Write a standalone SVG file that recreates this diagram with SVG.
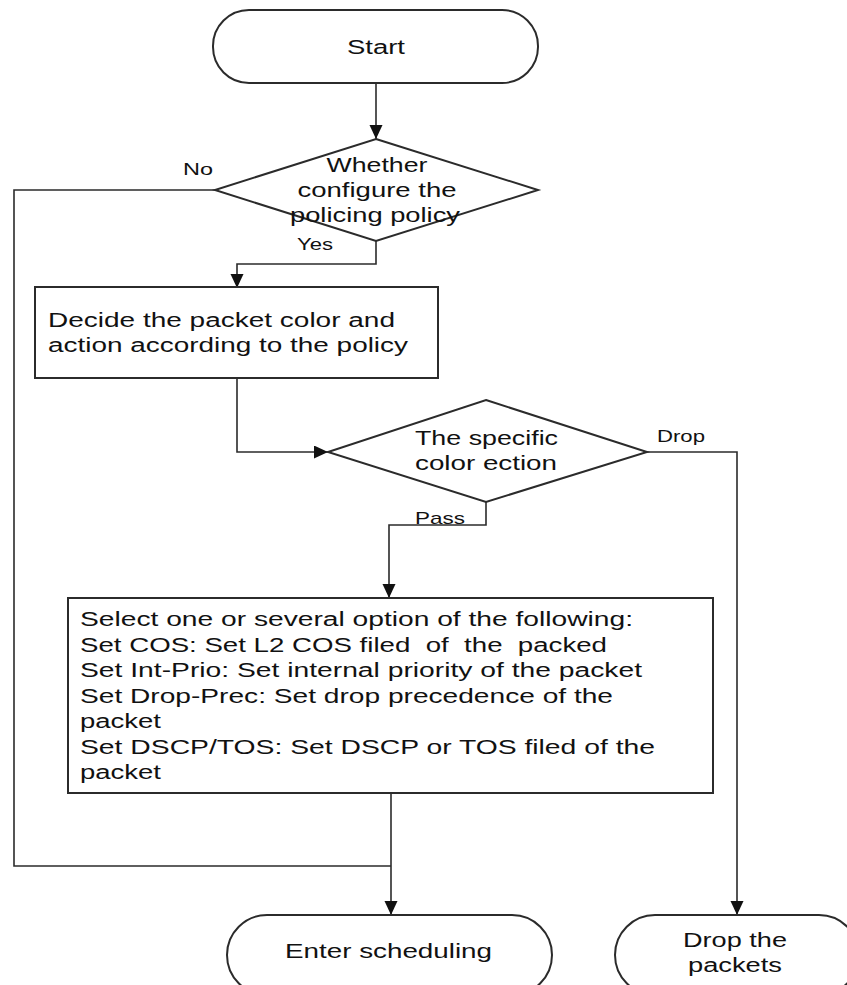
<svg xmlns="http://www.w3.org/2000/svg" width="847" height="985" viewBox="0 0 847 985">
<style>
.shape{fill:#ffffff;stroke:#2b2b2b;stroke-width:2}
.conn{fill:none;stroke:#2b2b2b;stroke-width:1.6}
.t{font-family:"Liberation Sans",Arial,sans-serif;font-size:20px;fill:#111}
.c{text-anchor:middle}
.lbl{font-family:"Liberation Sans",Arial,sans-serif;font-size:17px;fill:#111}
</style>
<defs>
<marker id="arr" markerUnits="userSpaceOnUse" markerWidth="14" markerHeight="14" refX="14" refY="6.5" orient="auto">
<path d="M0,0 L14,6.5 L0,13 z" fill="#111"/>
</marker>
</defs>
<rect width="847" height="985" fill="#ffffff"/>
<g id="connectors">
<path class="conn" d="M376,83 V139" marker-end="url(#arr)"/>
<path class="conn" d="M215,190 H14 V866 H391"/>
<path class="conn" d="M376,241 V264 H237 V288" marker-end="url(#arr)"/>
<path class="conn" d="M237,378 V452 H328" marker-end="url(#arr)"/>
<path class="conn" d="M486,502 V525 H389 V598" marker-end="url(#arr)"/>
<path class="conn" d="M647,452 H737 V915" marker-end="url(#arr)"/>
<path class="conn" d="M391,793 V915" marker-end="url(#arr)"/>
<text class="lbl" x="183" y="175" textLength="30" lengthAdjust="spacingAndGlyphs">No</text>
<text class="lbl" x="297" y="250" textLength="36" lengthAdjust="spacingAndGlyphs">Yes</text>
<text class="lbl" x="657" y="442" textLength="48" lengthAdjust="spacingAndGlyphs">Drop</text>
<text class="lbl" x="415" y="524" textLength="50" lengthAdjust="spacingAndGlyphs">Pass</text>
</g>
<g id="start">
<rect class="shape" x="213" y="10" width="325" height="73" rx="36" ry="36"/>
<text class="t c" x="376" y="54" textLength="58" lengthAdjust="spacingAndGlyphs">Start</text>
</g>
<g id="decision-policy">
<polygon class="shape" points="376,139 538,190 376,241 215,190"/>
<text class="t c" x="377" y="172" textLength="101" lengthAdjust="spacingAndGlyphs">Whether</text>
<text class="t c" x="377" y="197" textLength="159" lengthAdjust="spacingAndGlyphs">configure the</text>
<text class="t c" x="375" y="222" textLength="170" lengthAdjust="spacingAndGlyphs">policing policy</text>
</g>
<g id="decide-color">
<rect class="shape" x="35" y="287" width="403" height="91"/>
<text class="t" x="48" y="327" textLength="347" lengthAdjust="spacingAndGlyphs">Decide the packet color and</text>
<text class="t" x="48" y="352" textLength="360" lengthAdjust="spacingAndGlyphs">action according to the policy</text>
</g>
<g id="decision-color-action">
<polygon class="shape" points="486,400 647,452 486,502 328,452"/>
<text class="t" x="415" y="445" textLength="143" lengthAdjust="spacingAndGlyphs">The specific</text>
<text class="t" x="415" y="470" textLength="142" lengthAdjust="spacingAndGlyphs">color ection</text>
</g>
<g id="select-options">
<rect class="shape" x="68" y="598" width="645" height="195"/>
<text class="t" x="80" y="626" textLength="553" lengthAdjust="spacingAndGlyphs">Select one or several option of the following:</text>
<text class="t" x="80" y="651.5" textLength="527" lengthAdjust="spacingAndGlyphs" xml:space="preserve">Set COS: Set L2 COS filed  of  the  packed</text>
<text class="t" x="80" y="677" textLength="562" lengthAdjust="spacingAndGlyphs">Set Int-Prio: Set internal priority of the packet</text>
<text class="t" x="80" y="702.5" textLength="533" lengthAdjust="spacingAndGlyphs">Set Drop-Prec: Set drop precedence of the</text>
<text class="t" x="80" y="728" textLength="81" lengthAdjust="spacingAndGlyphs">packet</text>
<text class="t" x="80" y="753.5" textLength="575" lengthAdjust="spacingAndGlyphs">Set DSCP/TOS: Set DSCP or TOS filed of the</text>
<text class="t" x="80" y="779" textLength="81" lengthAdjust="spacingAndGlyphs">packet</text>
</g>
<g id="enter-scheduling">
<rect class="shape" x="227" y="915" width="325" height="80" rx="40" ry="40"/>
<text class="t" x="285" y="958" textLength="207" lengthAdjust="spacingAndGlyphs">Enter scheduling</text>
</g>
<g id="drop-packets">
<rect class="shape" x="615" y="915" width="244" height="80" rx="40" ry="40"/>
<text class="t c" x="735" y="947" textLength="104" lengthAdjust="spacingAndGlyphs">Drop the</text>
<text class="t c" x="735" y="972" textLength="94" lengthAdjust="spacingAndGlyphs">packets</text>
</g>
</svg>
